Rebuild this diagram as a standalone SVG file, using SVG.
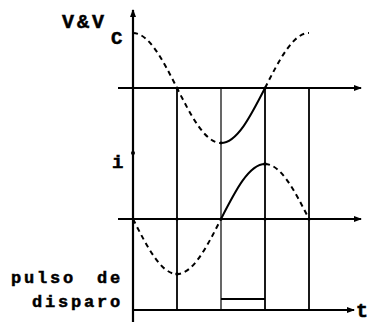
<svg xmlns="http://www.w3.org/2000/svg" width="372" height="322" viewBox="0 0 372 322">
<style>
.ax{stroke:#000;stroke-width:2.2;fill:none}
.vl{stroke:#000;stroke-width:1.8;fill:none}
.th{stroke:#000;stroke-width:1.2;fill:none}
.dash{stroke:#000;stroke-width:2;fill:none;stroke-dasharray:5 4}
.solid{stroke:#000;stroke-width:2;fill:none}
.lbl{font-family:"Liberation Mono","Courier New",monospace;font-weight:bold;fill:#000;stroke:#000;stroke-width:0.5}
</style>
<defs>
<marker id="arr" viewBox="0 0 8 8" refX="7" refY="4" markerWidth="8" markerHeight="8" markerUnits="userSpaceOnUse" orient="auto">
<path d="M0,1 L8,4 L0,7 Z" fill="#000"/>
</marker>
</defs>
<g id="connectors">
<line class="ax" x1="133" y1="322" x2="133" y2="10" marker-end="url(#arr)"/>
<line class="ax" x1="118" y1="88" x2="361" y2="88" marker-end="url(#arr)"/>
<line class="ax" x1="118" y1="219" x2="361" y2="219" marker-end="url(#arr)"/>
<line class="ax" x1="133" y1="310" x2="354" y2="310" marker-end="url(#arr)"/>
<line class="vl" x1="177" y1="88" x2="177" y2="310"/>
<line class="th" x1="221" y1="88" x2="221" y2="310"/>
<line class="vl" x1="265" y1="88" x2="265" y2="310"/>
<line class="vl" x1="309" y1="88" x2="309" y2="310"/>
<line class="ax" x1="221" y1="299" x2="265" y2="299" stroke-width="2.6"/>
<path class="dash" d="M133,33 C148.93,33 162.65,59.82 177,88 C191.35,116.18 205.07,143 221,143"/>
<path class="solid" d="M221,143 C236.93,143 250.65,116.18 265,88"/>
<path class="dash" d="M265,88 C279.35,59.82 293.07,33 309,33"/>
<path class="dash" d="M133,219 C147.35,247.18 161.07,274 177,274 C192.93,274 206.65,247.18 221,219"/>
<path class="solid" d="M221,219 C235.35,190.82 249.07,164 265,164"/>
<path class="dash" d="M265,164 C280.93,164 294.65,190.82 309,219"/>
<g fill="#000">
<circle cx="133" cy="153" r="2"/>
<circle cx="177" cy="88" r="1.6"/>
<circle cx="265" cy="88" r="1.6"/>
<circle cx="177" cy="219" r="1.6"/>
<circle cx="221" cy="219" r="1.6"/>
<circle cx="265" cy="219" r="1.6"/>
<circle cx="309" cy="219" r="1.6"/>
<circle cx="177" cy="274" r="1.8"/>
<circle cx="265" cy="164" r="1.8"/>
<circle cx="221" cy="143" r="1.4"/>
</g>
</g>
<g id="labels">
<text class="lbl" x="62" y="28" font-size="20" letter-spacing="3">V&amp;V</text>
<text class="lbl" x="111" y="44" font-size="19">C</text>
<text class="lbl" x="112" y="168" font-size="19">i</text>
<text class="lbl" x="11" y="283" font-size="17" letter-spacing="2.8">pulso <tspan x="97">de</tspan></text>
<text class="lbl" x="32" y="307" font-size="17" letter-spacing="2.8">disparo</text>
<text class="lbl" x="356" y="317" font-size="20">t</text>
</g>
</svg>
